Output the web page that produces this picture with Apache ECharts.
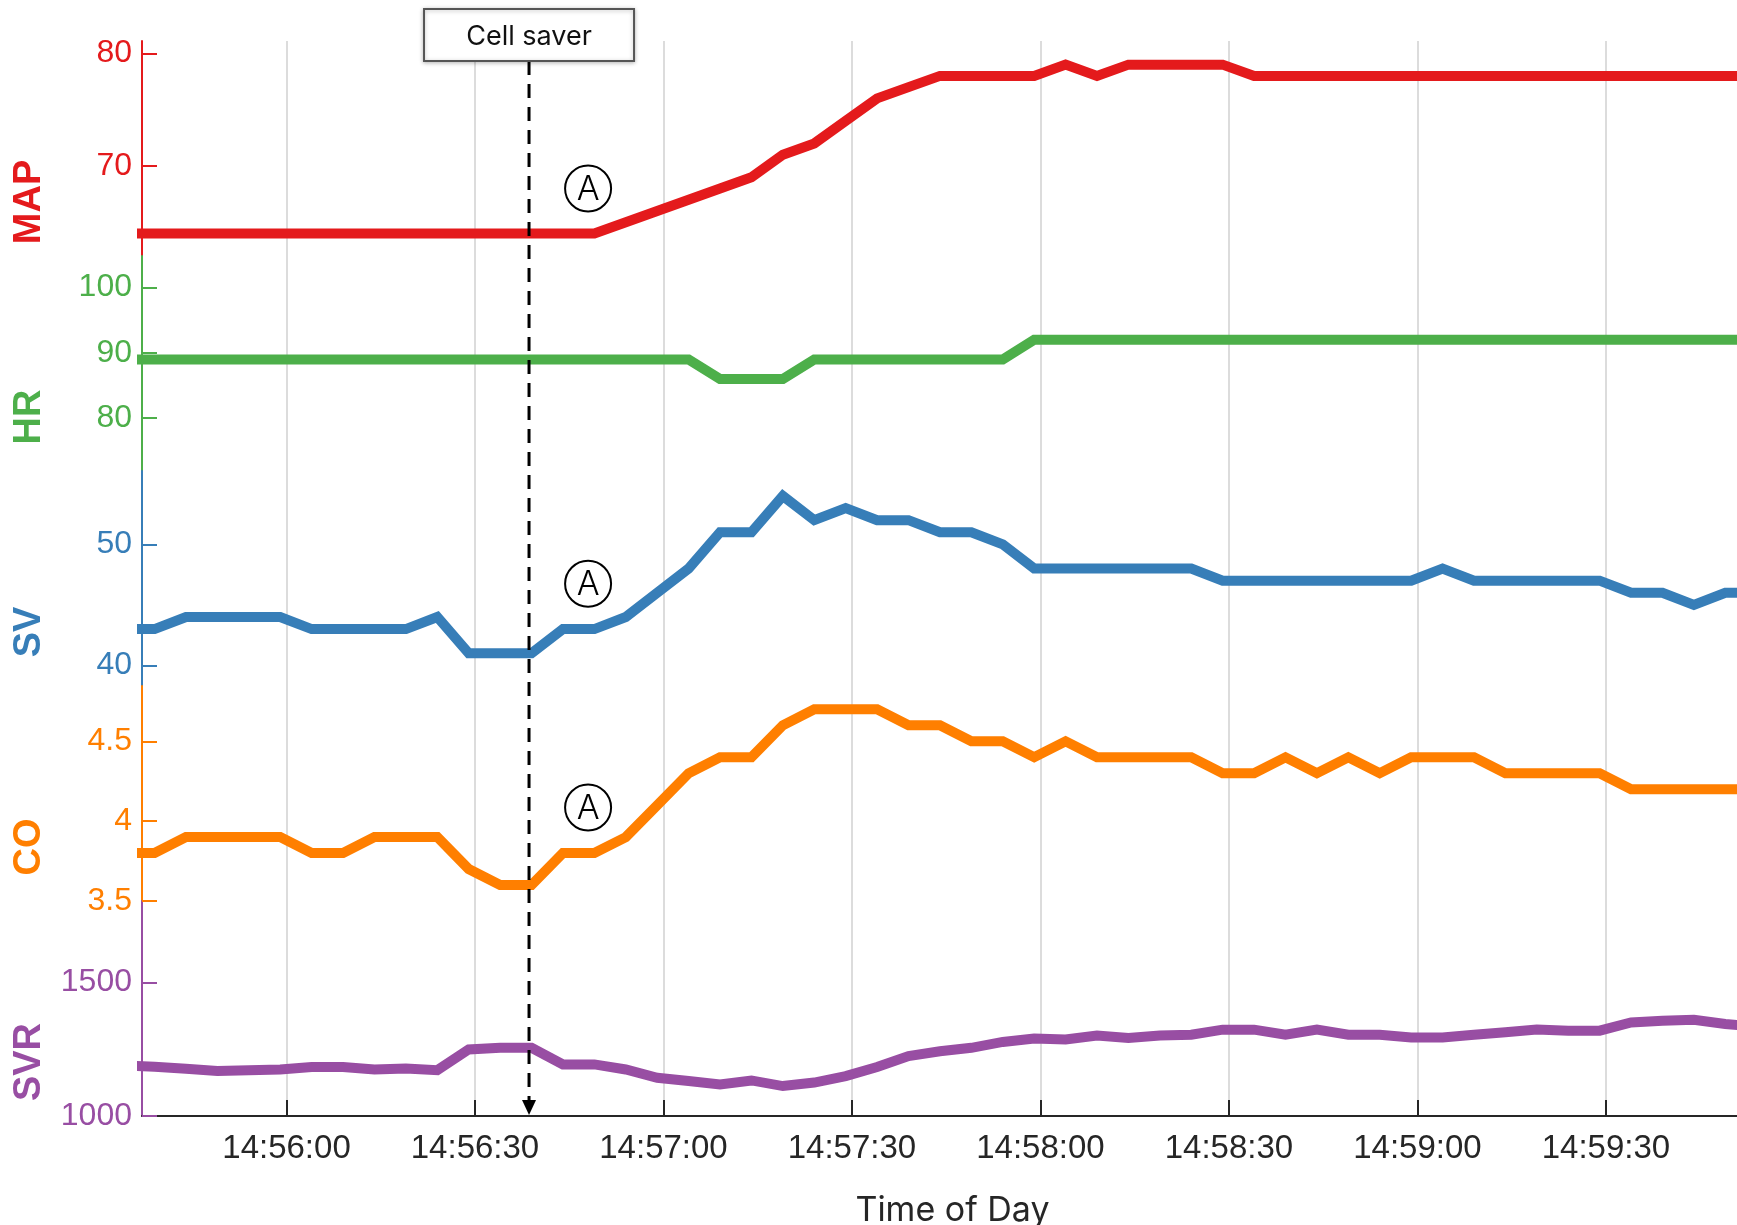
<!DOCTYPE html>
<html>
<head>
<meta charset="utf-8">
<script src="https://cdn.jsdelivr.net/npm/echarts@6/dist/echarts.min.js"></script>
<style>
  html, body { margin: 0; padding: 0; background: #ffffff; overflow: hidden; }
  #chart { width: 1737px; height: 1225px; }
</style>
</head>
<body>
<div id="chart"></div>
<script>
// Monitor readings, one every 5 seconds
const sampleTimes = [
  '14:55:34','14:55:39','14:55:44','14:55:49','14:55:54','14:55:59',
  '14:56:04','14:56:09','14:56:14','14:56:19','14:56:24','14:56:29',
  '14:56:34','14:56:39','14:56:44','14:56:49','14:56:54','14:56:59',
  '14:57:04','14:57:09','14:57:14','14:57:19','14:57:24','14:57:29',
  '14:57:34','14:57:39','14:57:44','14:57:49','14:57:54','14:57:59',
  '14:58:04','14:58:09','14:58:14','14:58:19','14:58:24','14:58:29',
  '14:58:34','14:58:39','14:58:44','14:58:49','14:58:54','14:58:59',
  '14:59:04','14:59:09','14:59:14','14:59:19','14:59:24','14:59:29',
  '14:59:34','14:59:39','14:59:44','14:59:49','14:59:54'
];

// Mean arterial pressure (mmHg)
const mapValues = [
  64,64,64,64,64,64,64,64,64,64,64,64,64,64,64,64,
  65,66,67,68,69,71,72,74,76,77,78,78,78,78,
  79,78,79,79,79,79,
  78,78,78,78,78,78,78,78,78,78,78,78,78,78,78,78,78
];

// Heart rate (bpm)
const hrValues = [
  89,89,89,89,89,89,89,89,89,89,89,89,89,89,89,89,89,89,89,
  86,86,86,
  89,89,89,89,89,89,89,
  92,92,92,92,92,92,92,92,92,92,92,92,92,92,92,92,92,92,92,92,92,92,92,92
];

// Stroke volume (ml)
const svValues = [
  43,43,44,44,44,44,43,43,43,43,44,41,41,41,43,43,44,46,48,51,51,54,52,53,
  52,52,51,51,50,48,48,48,48,48,48,47,47,47,47,47,47,47,48,47,47,47,47,47,
  46,46,45,46,46
];

// Cardiac output (l/min)
const coValues = [
  3.8,3.8,3.9,3.9,3.9,3.9,3.8,3.8,3.9,3.9,3.9,3.7,3.6,3.6,3.8,3.8,3.9,4.1,
  4.3,4.4,4.4,4.6,4.7,4.7,4.7,4.6,4.6,4.5,4.5,4.4,4.5,4.4,4.4,4.4,4.4,4.3,
  4.3,4.4,4.3,4.4,4.3,4.4,4.4,4.4,4.3,4.3,4.3,4.3,4.2,4.2,4.2,4.2,4.2
];

// Systemic vascular resistance (dyn·s/cm⁵)
const svrValues = [
  1190,1184,1177,1168,1171,1174,1183,1183,1174,1178,1171,1249,1255,1255,
  1193,1193,1174,1143,1131,1118,1133,1112,1125,1149,1183,1224,1242,1255,
  1277,1290,1286,1301,1292,1301,1304,1323,1323,1304,1323,1304,1304,1294,
  1294,1304,1313,1323,1319,1319,1350,1356,1360,1344,1335
];

// Tick values on each panel's left axis
const mapTicks = [70, 80];
const hrTicks = [80, 90, 100];
const svTicks = [40, 50];
const coTicks = [3.5, 4, 4.5];
const svrTicks = [1000, 1500];

// Time window of the axes and the cell-saver event
const viewStart = '14:55:37';
const viewEnd = '14:59:55';
const eventTime = '14:56:38.6';
const eventLabel = 'Cell saver';
// Circled "A" markers: panel index, time, value on that panel's scale
const markerPoints = [
  { panel: 0, time: '14:56:48', value: 68.0 },
  { panel: 2, time: '14:56:48', value: 46.75 },
  { panel: 3, time: '14:56:48', value: 4.085 }
];

function toTs(hms) {
  const parts = hms.split(':').map(Number);
  return new Date(2020, 0, 1, parts[0], parts[1], 0).getTime() + parts[2] * 1000;
}
function pad(n) { return String(n).padStart(2, '0'); }
function clockLabel(v) {
  const d = new Date(v);
  if (d.getSeconds() % 30 !== 0 || d.getMilliseconds() !== 0) return '';
  return pad(d.getHours()) + ':' + pad(d.getMinutes()) + ':' + pad(d.getSeconds());
}

const panels = [
  { title: 'MAP', color: '#e41a1c', values: mapValues, ticks: mapTicks, min: 62, max: 81.1 },
  { title: 'HR',  color: '#4daf4a', values: hrValues,  ticks: hrTicks,  min: 71.9, max: 104.85 },
  { title: 'SV',  color: '#377eb8', values: svValues,  ticks: svTicks,  min: 38.3, max: 56.06 },
  { title: 'CO',  color: '#ff7f00', values: coValues,  ticks: coTicks,  min: 3.5, max: 4.846 },
  { title: 'SVR', color: '#984ea3', values: svrValues, ticks: svrTicks, min: 1000, max: 1804 }
];

// The time axis runs a little past the right edge of the page
const GRID_LEFT = 142;
const GRID_WIDTH = 1621;
const PANEL_TOP = 41;
const PANEL_H = 215;
const LABEL_FONT = '"Liberation Sans", Arial, Helvetica, sans-serif';
const TEXT_FONT = 'Inter, "Open Sans", sans-serif';
const last = panels.length - 1;

const chart = echarts.init(document.getElementById('chart'), null, { renderer: 'canvas' });

const option = {
  animation: false,
  backgroundColor: '#ffffff',
  grid: panels.map((p, i) => ({
    left: GRID_LEFT, width: GRID_WIDTH,
    top: PANEL_TOP + i * PANEL_H, height: PANEL_H,
    containLabel: false,
    outerBoundsMode: 'none'
  })),
  xAxis: panels.map((p, i) => ({
    gridIndex: i,
    type: 'time',
    min: toTs(viewStart),
    max: toTs(viewEnd),
    minInterval: 31000,
    maxInterval: 31000,
    axisLine: { show: i === last, onZero: false, lineStyle: { color: '#262626', width: 2 } },
    axisTick: { show: i === last, inside: true, length: 16, lineStyle: { color: '#262626', width: 2 } },
    axisLabel: {
      show: i === last, formatter: clockLabel, color: '#262626',
      fontSize: 33, fontFamily: LABEL_FONT, margin: 16, hideOverlap: false
    },
    splitLine: { show: true, lineStyle: { color: '#dcdcdc', width: 2 } },
    name: i === last ? 'Time of Day' : '',
    nameLocation: 'middle',
    nameGap: 78,
    nameTextStyle: { color: '#262626', fontSize: 34, fontFamily: TEXT_FONT }
  })),
  yAxis: panels.map((p, i) => ({
    gridIndex: i,
    type: 'value',
    min: p.min,
    max: p.max,
    axisLine: { show: true, onZero: false, lineStyle: { color: p.color, width: 2 } },
    axisTick: { show: true, inside: true, length: 15, customValues: p.ticks, lineStyle: { color: p.color, width: 2 } },
    axisLabel: {
      color: p.color, fontSize: 32, fontFamily: LABEL_FONT, margin: 10,
      padding: [5, 0, 0, 0],
      customValues: p.ticks, formatter: v => String(v)
    },
    splitLine: { show: false }
  })),
  series: panels.map((p, i) => ({
    name: p.title,
    type: 'line',
    xAxisIndex: i,
    yAxisIndex: i,
    showSymbol: false,
    symbol: 'none',
    clip: true,
    lineStyle: { color: p.color, width: 10, join: 'miter', cap: 'butt' },
    data: sampleTimes.map((t, k) => [toTs(t), p.values[k]])
  }))
};

chart.setOption(option);

// Annotations placed through the axes' own scales
const graphics = [];

panels.forEach((p, i) => {
  graphics.push({
    type: 'text',
    x: 30,
    y: PANEL_TOP + i * PANEL_H + 161,
    rotation: Math.PI / 2,
    style: {
      text: p.title, fill: p.color,
      font: 'bold 38px ' + LABEL_FONT,
      align: 'center', verticalAlign: 'middle'
    },
    z: 10
  });
});

const ex = chart.convertToPixel({ xAxisIndex: last }, toTs(eventTime));
const axisBottom = chart.convertToPixel({ yAxisIndex: last }, panels[last].min);
const boxTop = 9, boxH = 52, boxW = 210;

graphics.push({
  type: 'line',
  shape: { x1: ex, y1: boxTop + boxH, x2: ex, y2: axisBottom - 14 },
  style: { stroke: '#000000', lineWidth: 3, lineDash: [14, 9] },
  z: 20
});
graphics.push({
  type: 'polygon',
  shape: { points: [[ex - 7, axisBottom - 16], [ex + 7, axisBottom - 16], [ex, axisBottom - 1]] },
  style: { fill: '#000000' },
  z: 20
});
graphics.push({
  type: 'rect',
  shape: { x: ex - boxW / 2, y: boxTop, width: boxW, height: boxH },
  style: {
    fill: '#ffffff', stroke: '#555555', lineWidth: 2,
    shadowBlur: 4, shadowColor: 'rgba(0,0,0,0.25)', shadowOffsetY: 1
  },
  z: 21
});
graphics.push({
  type: 'text',
  x: ex, y: boxTop + boxH / 2 + 2,
  style: {
    text: eventLabel, fill: '#111111',
    font: '27px ' + TEXT_FONT,
    align: 'center', verticalAlign: 'middle'
  },
  z: 22
});

markerPoints.forEach(m => {
  const pt = chart.convertToPixel({ xAxisIndex: m.panel, yAxisIndex: m.panel }, [toTs(m.time), m.value]);
  graphics.push({
    type: 'circle',
    shape: { cx: pt[0], cy: pt[1], r: 23 },
    style: { fill: 'rgba(255,255,255,0)', stroke: '#000000', lineWidth: 2 },
    z: 20
  });
  graphics.push({
    type: 'text',
    x: pt[0], y: pt[1] + 1,
    style: {
      text: 'A', fill: '#000000',
      font: '300 34px ' + TEXT_FONT,
      align: 'center', verticalAlign: 'middle'
    },
    z: 21
  });
});

chart.setOption({ graphic: graphics });
</script>
</body>
</html>
